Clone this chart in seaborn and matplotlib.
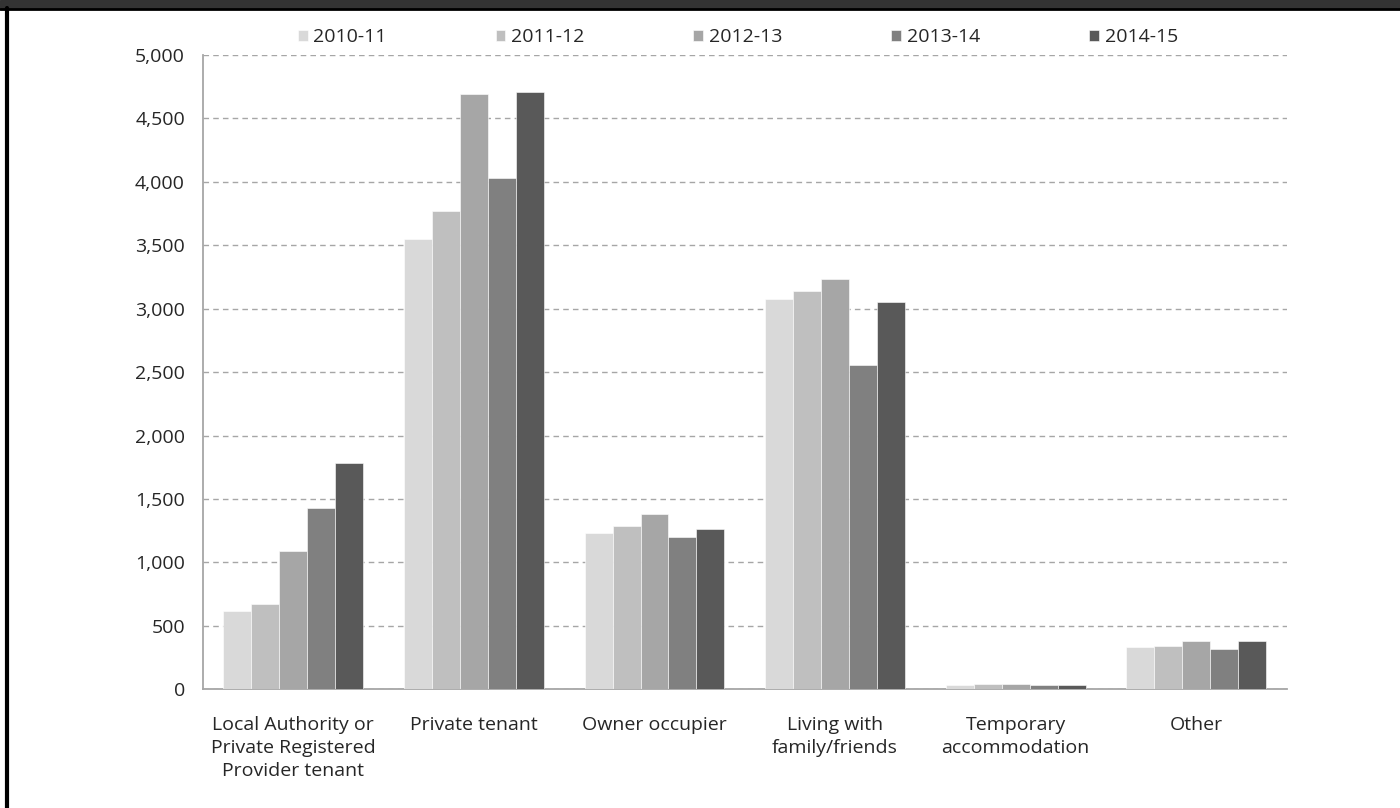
import pandas as pd
import matplotlib.pyplot as plt
import seaborn as sns
from matplotlib.ticker import FuncFormatter, FixedLocator
from matplotlib.patches import Rectangle
from matplotlib.lines import Line2D

categories = ['Local Authority or\nPrivate Registered\nProvider tenant', 'Private tenant',
              'Owner occupier', 'Living with\nfamily/friends', 'Temporary\naccommodation', 'Other']
years = ['2010-11', '2011-12', '2012-13', '2013-14', '2014-15']
v2010 = [619, 3553, 1232, 3074, 37, 336]
v2011 = [670, 3768, 1283, 3142, 45, 344]
v2012 = [1090, 4692, 1382, 3230, 45, 378]
v2013 = [1425, 4027, 1201, 2553, 35, 318]
v2014 = [1780, 4710, 1264, 3055, 35, 378]
colors = ['#D9D9D9', '#BFBFBF', '#A6A6A6', '#808080', '#595959']

rows = []
for yr, vals in zip(years, [v2010, v2011, v2012, v2013, v2014]):
    for c, v in zip(categories, vals):
        rows.append({'category': c, 'year': yr, 'value': v})
df = pd.DataFrame(rows)

sns.set_style('white')
plt.rcParams['font.family'] = ['Open Sans', 'DejaVu Sans']
fs = 14

fig = plt.figure(figsize=(14, 8.08), dpi=100)
ax = fig.add_axes([0.145, 0.147, 0.774, 0.785])

sns.barplot(data=df, x='category', y='value', hue='year', palette=colors, saturation=1,
            width=0.775, errorbar=None, edgecolor='white', linewidth=0.4, ax=ax, zorder=3)

ax.set_xlim(-0.5, 5.5)
ax.set_ylim(0, 5000)
ax.set_yticks(range(0, 5001, 500))
ax.yaxis.set_major_formatter(FuncFormatter(lambda v, p: f'{int(v):,}'))
ax.grid(axis='y', color='#A6A6A6', linestyle=(0, (4, 3)), linewidth=1, zorder=0)
ax.set_xlabel('')
ax.set_ylabel('')

for s in ['top', 'right']:
    ax.spines[s].set_visible(False)
for s in ['left', 'bottom']:
    ax.spines[s].set_color('#A6A6A6')
    ax.spines[s].set_linewidth(1.3)

ax.tick_params(axis='x', which='major', length=0, pad=19, labelsize=fs, labelcolor='#262626')
ax.xaxis.set_minor_locator(FixedLocator([i - 0.5 for i in range(7)]))
ax.tick_params(axis='x', which='minor', length=6, width=1, color='#A6A6A6', direction='out')
ax.tick_params(axis='y', length=5, width=1, color='#A6A6A6', direction='out', pad=8,
               labelsize=fs, labelcolor='#262626')
for lbl in ax.get_xticklabels():
    lbl.set_linespacing(1.38)

ax.legend(loc='center', bbox_to_anchor=(0.527, 0.954), bbox_transform=fig.transFigure, ncol=5,
          frameon=False, fontsize=fs, handlelength=0.5, handleheight=0.5, handletextpad=0.3,
          columnspacing=5.6, labelcolor='#262626')

# frame decorations
fig.patches.append(Rectangle((0, 1 - 8 / 808), 1, 8 / 808, transform=fig.transFigure,
                             color='#333333', zorder=0))
fig.lines.append(Line2D([0, 1], [1 - 9 / 808, 1 - 9 / 808], transform=fig.transFigure,
                        color='black', linewidth=2))
fig.lines.append(Line2D([7 / 1400, 7 / 1400], [0, 1 - 8 / 808], transform=fig.transFigure,
                        color='black', linewidth=3))

fig.savefig('out.png', dpi=100)
